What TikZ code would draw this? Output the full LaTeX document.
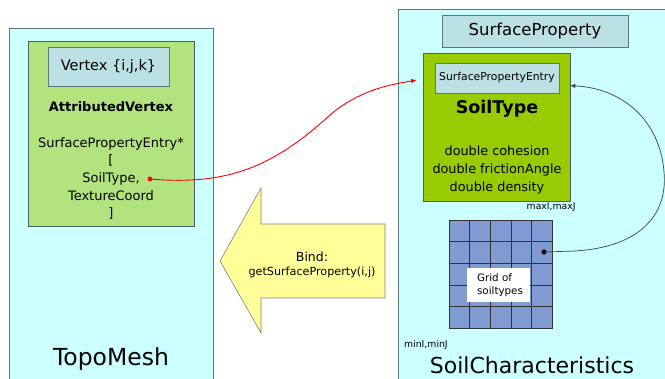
\documentclass[tikz,border=0pt]{standalone}
\usepackage{fontspec}
\setmainfont{DejaVu Sans}
\usetikzlibrary{arrows.meta,calc}
\definecolor{panelcyan}{HTML}{CCFFFF}
\definecolor{panelborder}{HTML}{5E7878}
\definecolor{attrgreen}{HTML}{B3E37F}
\definecolor{soilgreen}{HTML}{99CC00}
\definecolor{labelblue}{HTML}{BCE1E4}
\definecolor{gridblue}{HTML}{7F9BD1}
\definecolor{bindyellow}{HTML}{FFFF99}
\tikzset{
  panelfill/.style={fill=panelcyan},
  paneledge/.style={draw=panelborder, line width=0.7pt},
  classbox/.style={draw=panelborder!80!black, line width=0.6pt, inner sep=0pt},
  titlebox/.style={draw=panelborder, fill=labelblue, line width=0.7pt, inner sep=0pt},
  txt/.style={inner sep=0pt, align=center, text=black},
  link/.style={line width=0.9pt},
}
\begin{document}
\begin{tikzpicture}[x=1pt,y=-1pt]
\useasboundingbox[fill=white] (0,0) rectangle (665,379);

% --- left panel: mesh ---
\fill[panelfill] (9.5,28.5) rectangle (213,390);
\draw[paneledge] (9.5,390) -- (9.5,28.5) -- (213,28.5) -- (213,390);
\node[txt, font=\fontsize{23.5}{26}\selectfont] (topomesh) at (111,359) {TopoMesh};

\node[classbox, fill=attrgreen, minimum width=165.5pt, minimum height=185pt] (attr) at (111.25,133.5) {};
\node[titlebox, minimum width=121pt, minimum height=39pt, font=\fontsize{14.5}{16}\selectfont] (vertex) at (108.5,66.5) {Vertex \{i,j,k\}};
\node[txt, font=\bfseries\fontsize{13}{15}\selectfont] (attrtitle) at (111,107) {AttributedVertex};
\node[txt, font=\fontsize{13}{17.7}\selectfont] (attrbody) at (111,178.5) {SurfacePropertyEntry*\\{[}\\SoilType,\hspace{10pt}\\TextureCoord\\{]}};
\coordinate (reddot) at (150,179);

% --- right panel: soil characteristics ---
\fill[panelfill] (398,9.5) rectangle (670,390);
\draw[paneledge] (670,9.5) -- (398,9.5) -- (398,390);
\node[titlebox, minimum width=186pt, minimum height=32pt, font=\fontsize{16.5}{19}\selectfont] (surfprop) at (535,31) {SurfaceProperty};

\node[classbox, fill=soilgreen, minimum width=147pt, minimum height=148pt] (soil) at (496.5,127) {};
\node[titlebox, minimum width=124pt, minimum height=30pt, font=\fontsize{10.8}{12}\selectfont] (spe) at (497,78) {SurfacePropertyEntry};
\node[txt, font=\bfseries\fontsize{17.5}{20}\selectfont] (soiltitle) at (497,108.5) {SoilType};
\node[txt, font=\fontsize{12.8}{18}\selectfont] (soilbody) at (497,170) {double cohesion\\double frictionAngle\\double density};
\coordinate (soilin) at ($(soil.north east)+(0,33)$);

\node[txt, anchor=west, font=\fontsize{9.3}{11}\selectfont] (maxlabel) at (526.5,207.5) {maxI,maxJ};
\node[txt, anchor=west, font=\fontsize{9.3}{11}\selectfont] (minlabel) at (404,344.5) {minI,minJ};

% grid of soil types, 5 x 5 cells
\node[draw=black!80, fill=gridblue, line width=0.7pt, minimum width=103pt, minimum height=108pt, inner sep=0pt] (grid) at (500.5,274) {};
\foreach \k in {1,...,4} {
  \draw[black!80, line width=0.7pt] ($(grid.north west)!\k/5!(grid.north east)$) -- ($(grid.south west)!\k/5!(grid.south east)$);
  \draw[black!80, line width=0.7pt] ($(grid.north west)!\k/5!(grid.south west)$) -- ($(grid.north east)!\k/5!(grid.south east)$);
}
\node[fill=white, minimum width=63pt, minimum height=34pt, inner sep=0pt] (gridbox) at (498.5,285) {};
\node[txt, align=left, font=\fontsize{10.3}{13.5}\selectfont] (gridlabel) at (500,285) {Grid of\\soiltypes};
\coordinate (griddot) at (544,252);

\node[txt, font=\fontsize{22}{25}\selectfont] (soilchar) at (532,365.5) {SoilCharacteristics};

% --- bind arrow ---
\draw[draw=black!50, fill=bindyellow, line width=0.6pt]
  (220,261) -- (261,188) -- (261,224) -- (385,224) -- (385,298) -- (261,298) -- (261,333) -- cycle;
\node[txt, font=\fontsize{12.5}{14}\selectfont] (bindtitle) at (312,257) {Bind:};
\node[txt, font=\fontsize{11.2}{13}\selectfont] (bindcall) at (312,272.5) {getSurfaceProperty(i,j)};

% --- links ---
\fill[red] (reddot) circle (2.4pt);
\draw[red, link, -{Latex[length=6pt,width=4.5pt]}] (reddot) .. controls (230,186) and (275,165) .. (330,115)
  .. controls (362,88) and (395,84) .. (417,80);
\fill[black] (griddot) circle (2.6pt);
\draw[black!75, line width=0.7pt, -{Latex[length=5pt,width=4.5pt]}] (griddot) -- (575,251)
  .. controls (640,247) and (668,215) .. (664,172)
  .. controls (660,120) and (622,88) .. (soilin);
\end{tikzpicture}
\end{document}
